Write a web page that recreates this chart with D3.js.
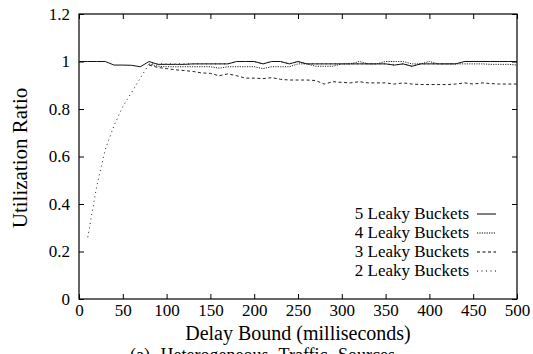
<!DOCTYPE html>
<html><head><meta charset="utf-8">
<script src="https://cdn.jsdelivr.net/npm/d3@7"></script>
<style>body{margin:0;background:#fff}svg{display:block}svg text{font-family:"Liberation Serif","DejaVu Serif","Noto Serif",Tinos,"Times New Roman",Times,serif !important;fill:#000}</style>
</head><body><svg id="c" width="533" height="354"></svg>
<script>
const xs = [0,10,20,30,40,50,60,70,80,90,100,110,120,130,140,150,160,170,180,190,200,210,220,230,240,250,260,270,280,290,300,310,320,330,340,350,360,370,380,390,400,410,420,430,440,450,460,470,480,490,500];
const lb5 = [1,1,1,1,0.985,0.985,0.984,0.978,1,0.988,0.988,0.988,0.988,0.99,0.99,0.99,0.99,0.99,1,1,1,0.99,1,1,0.99,1,0.99,0.99,0.99,0.99,0.99,0.99,0.99,0.99,0.99,0.99,0.985,0.99,0.98,0.99,0.99,0.99,0.99,0.99,1,1,1,1,1,1,1];
const lb4 = [null,null,null,null,null,null,null,null,0.99,0.98,0.978,0.978,0.978,0.978,0.978,0.978,0.972,0.978,0.978,0.978,0.978,0.97,0.978,0.978,0.978,0.99,0.99,0.98,0.98,0.98,0.99,0.99,1,0.99,0.99,1,1,1,0.99,0.99,1,0.99,0.99,0.99,0.99,0.99,0.99,0.988,0.988,0.988,0.985];
const lb3 = [null,null,null,null,null,null,null,null,0.985,0.975,0.97,0.965,0.962,0.958,0.952,0.95,0.94,0.948,0.94,0.93,0.93,0.928,0.932,0.925,0.922,0.922,0.922,0.92,0.905,0.915,0.912,0.91,0.915,0.91,0.91,0.91,0.905,0.91,0.905,0.903,0.903,0.903,0.903,0.905,0.91,0.905,0.91,0.907,0.905,0.905,0.905];
const lb2 = [null,0.26,0.47,0.63,0.73,0.81,0.87,0.93,0.99,0.99,0.99,0.99,0.99,0.99,0.99,0.99,0.99,0.99,1,1,1,0.99,1,1,0.99,1,0.99,0.99,0.99,0.99,0.99,0.99,0.99,0.99,0.99,0.99,0.985,0.99,0.98,0.99,0.99,0.99,0.99,0.99,1,1,1,1,1,1,1];
const xTicks = [0,50,100,150,200,250,300,350,400,450,500];
const yTicks = [0,0.2,0.4,0.6,0.8,1,1.2];
const yTickLabels = ["0","0.2","0.4","0.6","0.8","1","1.2"];
const seriesNames = ["5 Leaky Buckets","4 Leaky Buckets","3 Leaky Buckets","2 Leaky Buckets"];
const dashes = [null,"1.2,1.2","3,2.5","1,3.5"];

const svg = d3.select("#c");
const L=79,R=517,T=14,B=299;
const x = d3.scaleLinear().domain([0,500]).range([L,R]);
const y = d3.scaleLinear().domain([0,1.2]).range([B,T]);

const g = svg.append("g");
const tl=5;
g.append("g").attr("transform",`translate(0,${B})`).call(d3.axisBottom(x).tickValues(xTicks).tickSize(-tl).tickPadding(5).tickFormat(d3.format("d")))
 .call(a=>{a.select(".domain").remove();a.selectAll("text").attr("font-size",17).attr("dy","0.72em");});
g.append("g").attr("transform",`translate(0,${T})`).call(d3.axisTop(x).tickValues(xTicks).tickSize(-tl).tickFormat(""))
 .call(a=>a.select(".domain").remove());
g.append("g").attr("transform",`translate(${L},0)`).call(d3.axisLeft(y).tickValues(yTicks).tickSize(-tl).tickPadding(9).tickFormat((d,i)=>yTickLabels[i]))
 .call(a=>{a.select(".domain").remove();a.selectAll("text").attr("font-size",17);});
g.append("g").attr("transform",`translate(${R},0)`).call(d3.axisRight(y).tickValues(yTicks).tickSize(-tl).tickFormat(""))
 .call(a=>a.select(".domain").remove());
g.selectAll(".tick line").attr("stroke","#000");
g.selectAll("g").attr("font-family",null);

svg.append("rect").attr("x",L).attr("y",T).attr("width",R-L).attr("height",B-T).attr("fill","none").attr("stroke","#000").attr("stroke-width",1.2);

const all=[lb5,lb4,lb3,lb2];
const line = d3.line().defined(d=>d[1]!=null).x(d=>x(d[0])).y(d=>y(d[1]));
[3,2,1,0].forEach(i=>{
  svg.append("path").datum(xs.map((v,j)=>[v,all[i][j]])).attr("d",line)
   .attr("fill","none").attr("stroke",i==0?"#111":"#222").attr("stroke-width",1)
   .attr("stroke-dasharray",dashes[i]);
});

seriesNames.forEach((n,i)=>{
  const cy=214+i*19;
  svg.append("text").attr("x",469).attr("y",cy+5).attr("text-anchor","end").attr("font-size",17).text(n);
  svg.append("line").attr("x1",477).attr("x2",496).attr("y1",cy).attr("y2",cy).attr("stroke","#000").attr("stroke-width",1).attr("stroke-dasharray",dashes[i]);
});

svg.append("text").attr("x",(L+R)/2).attr("y",340).attr("text-anchor","middle").attr("font-size",20).text("Delay Bound (milliseconds)");
svg.append("text").attr("transform","translate(27,158) rotate(-90)").attr("text-anchor","middle").attr("font-size",21).text("Utilization Ratio");
svg.append("text").attr("x",130).attr("y",361).attr("font-size",18).attr("word-spacing","6").text("(a)  Heterogeneous Traffic Sources");
</script></body></html>
